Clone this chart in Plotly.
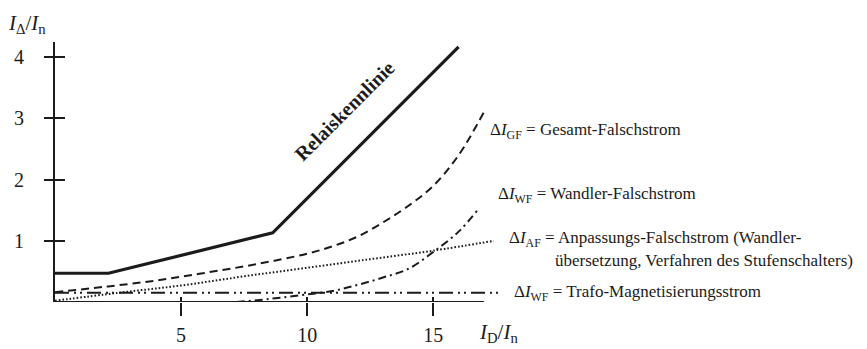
import plotly.graph_objects as go

# ---- data ----
relais_x = [0, 2.12, 8.63, 16.0]
relais_y = [0.47, 0.47, 1.13, 4.17]

gesamt_x = [0, 2, 4, 6, 8, 10, 11, 12, 13, 14, 15, 16, 17.0]
gesamt_y = [0.16, 0.25, 0.35, 0.48, 0.62, 0.79, 0.91, 1.07, 1.30, 1.57, 1.90, 2.40, 3.10]

wandler_x = [7.2, 8.5, 9.7, 11, 12, 13, 14, 15, 16, 16.75]
wandler_y = [0.0, 0.05, 0.11, 0.18, 0.28, 0.40, 0.54, 0.82, 1.15, 1.50]

anpass_x = [0, 2.5, 5, 7.5, 10, 12.5, 15, 17.4]
anpass_y = [0.02, 0.15, 0.27, 0.42, 0.56, 0.70, 0.84, 1.0]

trafo_x = [0, 17.6]
trafo_y = [0.15, 0.15]

x_ticks = [5, 10, 15]
y_ticks = [1, 2, 3, 4]

INK = "#1c1a1a"
FONT = "Liberation Serif, Times New Roman, serif"

OFF = 8                      # default page body margin
W, H = 867 - OFF, 349 - OFF
L, T = 55 - OFF, 42 - OFF
PLOT_BOTTOM = 302 - OFF
B = H - PLOT_BOTTOM
PW = 448.6
PH = H - T - B

fig = go.Figure()

def line(x, y, width, dash, shape="linear"):
    fig.add_trace(go.Scatter(x=x, y=y, mode="lines", showlegend=False,
                             hoverinfo="skip", cliponaxis=False,
                             line=dict(color=INK, width=width, dash=dash, shape=shape)))

line(relais_x, relais_y, 3.2, "solid")
line(gesamt_x, gesamt_y, 2, "8px,5px", "spline")
line(wandler_x, wandler_y, 2, "8px,4px,2px,4px", "spline")
line(anpass_x, anpass_y, 2, "1.6px,2px", "spline")
line(trafo_x, trafo_y, 2, "14px,5px,2px,4px,2px,5px")

# overlay axes used only for the inner halves of the crossing tick marks
fig.add_trace(go.Scatter(x=[None], y=[None], xaxis="x2", yaxis="y2",
                         showlegend=False, hoverinfo="skip"))

XR = [0, 17.8]
YR = [0, 4.25]

fig.update_layout(
    width=W, height=H,
    margin=dict(l=L, r=W - L - PW, t=T, b=B, autoexpand=False),
    paper_bgcolor="white", plot_bgcolor="white",
    font=dict(family=FONT, color=INK),
    xaxis=dict(range=XR, showline=False, showgrid=False, zeroline=False,
               automargin=False,
               tickvals=x_ticks, ticks="outside", ticklen=13, tickwidth=2,
               tickcolor=INK, tickfont=dict(size=20, family=FONT, color=INK),
               ticklabelstandoff=2),
    yaxis=dict(range=YR, showline=True, linewidth=2, linecolor=INK,
               showgrid=False, zeroline=False, automargin=False,
               tickvals=y_ticks, ticks="outside", ticklen=9, tickwidth=2,
               tickcolor=INK, tickfont=dict(size=20, family=FONT, color=INK),
               ticklabelstandoff=16),
    xaxis2=dict(range=XR, overlaying="x", anchor="y2", showline=False,
                showgrid=False, zeroline=False, automargin=False,
                tickvals=x_ticks, ticks="inside", ticklen=5, tickwidth=2,
                tickcolor=INK, showticklabels=False),
    yaxis2=dict(range=YR, overlaying="y", anchor="x2", side="left",
                showline=False, showgrid=False, zeroline=False, automargin=False,
                tickvals=y_ticks, ticks="inside", ticklen=10, tickwidth=2,
                tickcolor=INK, showticklabels=False),
)

# x axis line (ends before the curves do)
fig.add_shape(type="line", xref="x", yref="y", x0=0, x1=17.0, y0=0, y1=0,
              line=dict(color=INK, width=2))

def ann(px, py, text, size=17, **kw):
    # px, py: screen pixel position, converted to paper fractions
    fx = (px - OFF - L) / PW
    fy = (PLOT_BOTTOM - (py - OFF)) / PH
    fig.add_annotation(x=fx, y=fy, xref="paper", yref="paper",
                       text=text, showarrow=False,
                       font=dict(family=FONT, size=size, color=INK), **kw)

ann(488, 131, "Δ<i>I</i><sub>GF</sub> = Gesamt-Falschstrom", xanchor="left", yanchor="middle")
ann(496, 195, "Δ<i>I</i><sub>WF</sub> = Wandler-Falschstrom", xanchor="left", yanchor="middle")
ann(507, 239, "Δ<i>I</i><sub>AF</sub> = Anpassungs-Falschstrom (Wandler-", xanchor="left", yanchor="middle")
ann(553, 260, "übersetzung, Verfahren des Stufenschalters)", size=17, xanchor="left", yanchor="middle")
ann(512, 293, "Δ<i>I</i><sub>WF</sub> = Trafo-Magnetisierungsstrom", xanchor="left", yanchor="middle")

ann(344, 111, "<b>Relaiskennlinie</b>", size=20, textangle=-45,
    xanchor="center", yanchor="middle")

ann(27, 24, "<i>I</i><sub>Δ</sub>/<i>I</i><sub>n</sub>", size=21, xanchor="center", yanchor="middle")
ann(477, 333, "<i>I</i><sub>D</sub>/<i>I</i><sub>n</sub>", size=21, xanchor="left", yanchor="middle")

fig.write_html("out.html")
